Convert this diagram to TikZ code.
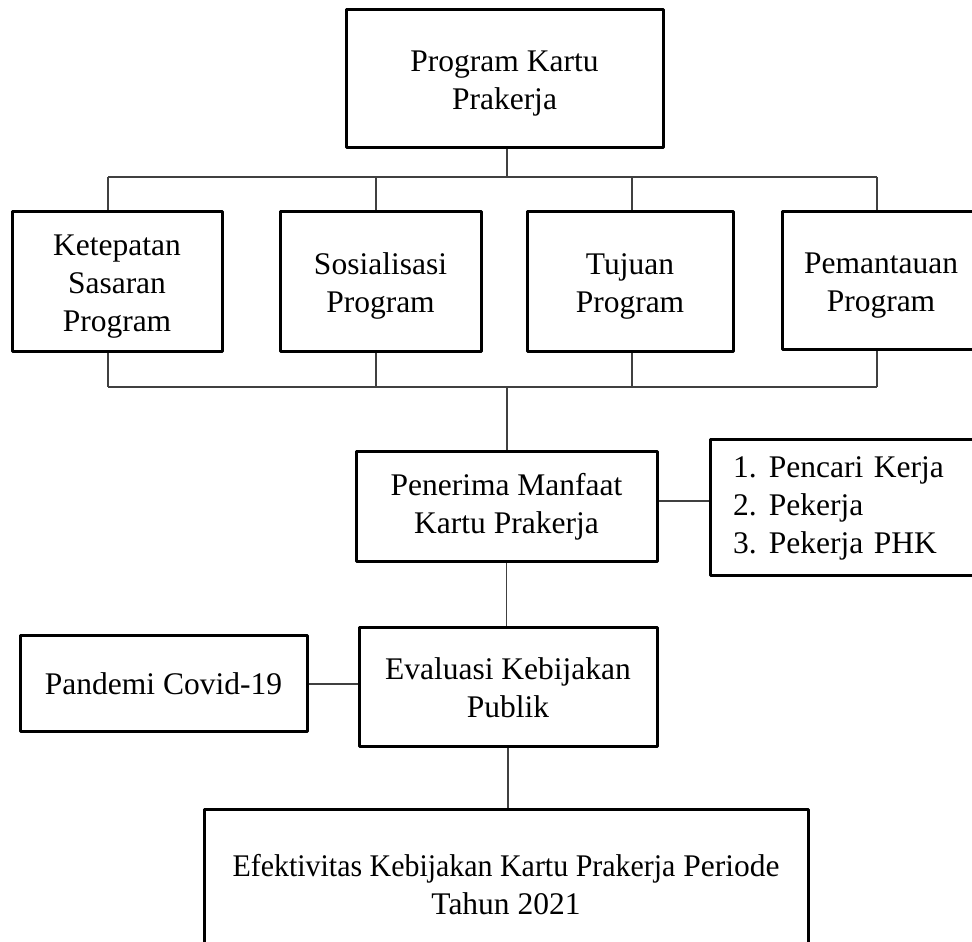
\documentclass[tikz,border=0pt]{standalone}
\usepackage{fontspec}
\setmainfont{Liberation Serif}
\usepackage{graphicx}
\newcommand{\boxfont}{\fontsize{31.5bp}{38bp}\selectfont}
\newcommand{\listline}[2]{\mbox{\makebox[36bp][l]{#1}#2}}
\newcommand{\lowstrut}{\rule{0pt}{30bp}}
\tikzset{
  box/.style={draw=black,line width=3bp,rectangle,inner sep=0pt,align=center,font=\boxfont},
  link/.style={draw=black!75,line width=1.3bp},
}
\begin{document}
\begin{tikzpicture}[>=latex,line join=bevel,]
\useasboundingbox (0bp,0bp) rectangle (972bp,942bp);
%%
\node (prog) at (504.5bp,863bp) [box,minimum width=317bp,minimum height=138bp] {\lowstrut Program Kartu\\Prakerja};
  \node (sasaran) at (117bp,660bp) [box,minimum width=210bp,minimum height=140bp] {\lowstrut Ketepatan\\Sasaran\\Program};
  \node (sosial) at (380.5bp,660bp) [box,minimum width=201bp,minimum height=140bp] {\lowstrut Sosialisasi\\Program};
  \node (tujuan) at (630bp,660bp) [box,minimum width=206bp,minimum height=140bp] {\lowstrut Tujuan\\Program};
  \node (pantau) at (881bp,661bp) [box,minimum width=198bp,minimum height=138bp] {\lowstrut Pemantauan\\Program};
  \node (penerima) at (506.5bp,435bp) [box,minimum width=301bp,minimum height=110bp] {Penerima Manfaat\\Kartu Prakerja};
  \node (kategori) at (845bp,434bp) [box,minimum width=270bp,minimum height=136bp,text width=224bp,align=left] {\listline{1.}{Pencari Kerja}\\\listline{2.}{Pekerja}\\\listline{3.}{Pekerja PHK}};
  \node (evaluasi) at (508bp,254.5bp) [box,minimum width=298bp,minimum height=119bp] {Evaluasi Kebijakan\\Publik};
  \node (pandemi) at (163.5bp,258bp) [box,minimum width=287bp,minimum height=96bp] {Pandemi Covid-19};
  \node (efektif) at (506bp,57bp) [box,minimum width=604bp,minimum height=150bp] {\scalebox{0.95}[1]{Efektivitas Kebijakan Kartu Prakerja} Periode\\Tahun 2021};
%
\coordinate (topbus) at (507bp,765bp);
\coordinate (botbus) at (507bp,555bp);
\foreach \n/\x in {sasaran/108,sosial/376,tujuan/632,pantau/877} {
  \coordinate (\n-up) at (\x bp,765bp);
  \coordinate (\n-dn) at (\x bp,555bp);
}
  \draw [link] (topbus |- prog.south) -- (topbus);
  \draw [link] (sasaran-up) -- (pantau-up);
  \draw [link] (sasaran-dn) -- (pantau-dn);
\foreach \n in {sasaran,sosial,tujuan,pantau} {
  \draw [link] (\n-up) -- (\n-up |- \n.north);
  \draw [link] (\n-dn |- \n.south) -- (\n-dn);
}
  \draw [link] (botbus) -- (botbus |- penerima.north);
  \draw [link] ([yshift=6bp]penerima.east) -- ([yshift=6bp]penerima.east -| kategori.west);
  \draw [link] (penerima.south) -- (penerima.south |- evaluasi.north);
  \draw [link] (pandemi.east) -- (pandemi.east -| evaluasi.west);
  \draw [link] (evaluasi.south) -- (evaluasi.south |- efektif.north);
%
\end{tikzpicture}
\end{document}
